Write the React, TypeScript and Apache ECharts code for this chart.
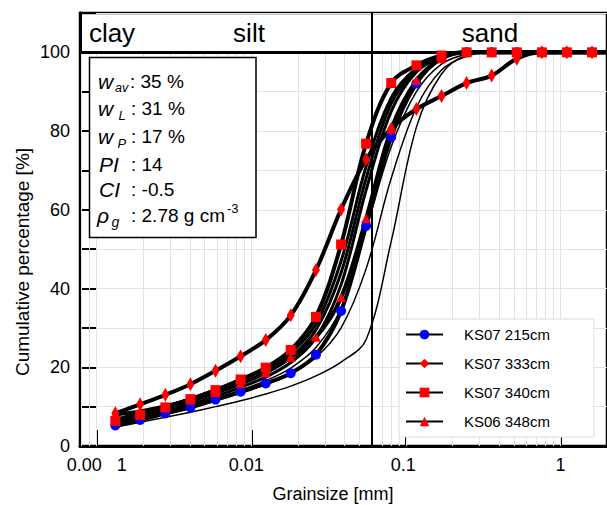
import React, { useEffect, useRef } from 'react';
import * as echarts from 'echarts';

// ---- data ----
const grainSizes = [0.00132, 0.00191, 0.00278, 0.00404, 0.00587, 0.00853, 0.0124, 0.018, 0.0262, 0.0381, 0.0553, 0.0804, 0.117, 0.17, 0.247, 0.359, 0.522, 0.759, 1.1, 1.6, 2.0];

const sampleNames = ['KS07 215cm', 'KS07 333cm', 'KS07 340cm', 'KS06 348cm'];
const ks07_215 = [5.2, 6.6, 8.3, 9.8, 11.8, 13.8, 15.9, 18.5, 23.2, 34.3, 55.9, 78.5, 92.1, 98.5, 100, 100, 100, 100, 100, 100, 100];
const ks07_333 = [8.3, 10.6, 13.0, 15.7, 19.1, 22.8, 26.9, 33.2, 44.7, 60.1, 72.8, 80.6, 85.6, 88.9, 92.2, 94.1, 98.4, 100, 100, 100, 100];
const ks07_340 = [6.4, 7.9, 9.8, 11.9, 14.2, 16.9, 19.9, 24.4, 32.8, 51.2, 76.8, 92.2, 96.7, 99.2, 100, 100, 100, 100, 100, 100, 100];
const ks06_348 = [8.0, 8.8, 10.1, 11.7, 13.6, 15.9, 18.6, 22.5, 27.6, 37.7, 57.8, 80.5, 92.9, 98.4, 100, 100, 100, 100, 100, 100, 100];

// other samples (unmarked curves)
const other1 = [6.8, 8.3, 10.0, 12.0, 14.3, 16.8, 19.6, 23.6, 31.0, 47.0, 71.0, 88.5, 96.0, 99.0, 100, 100, 100, 100, 100, 100, 100];
const other2 = [6.4, 7.8, 9.4, 11.3, 13.4, 15.8, 18.6, 22.5, 29.5, 44.0, 68.0, 87.0, 95.5, 99.0, 100, 100, 100, 100, 100, 100, 100];
const other3 = [6.0, 7.3, 8.8, 10.6, 12.6, 14.9, 17.5, 21.2, 27.5, 41.0, 65.0, 85.0, 95.0, 98.8, 100, 100, 100, 100, 100, 100, 100];
const other4 = [5.6, 6.9, 8.4, 10.1, 12.0, 14.2, 16.6, 19.8, 25.0, 35.0, 55.0, 76.0, 90.0, 97.0, 99.5, 100, 100, 100, 100, 100, 100];
const other5 = [5.4, 6.6, 8.0, 9.6, 11.4, 13.4, 15.6, 18.4, 22.5, 30.0, 45.0, 68.0, 86.0, 95.5, 99.0, 100, 100, 100, 100, 100, 100];
const other6 = [4.8, 6.0, 7.3, 8.6, 10.0, 11.5, 13.2, 15.2, 17.8, 21.3, 27.0, 52.0, 81.0, 94.5, 99.3, 100, 100, 100, 100, 100, 100];
const otherWidths = [3, 3, 3, 1.5, 1.5, 1.5];

// axes
const xMin = 0.00078;
const xMax = 2;
const xTickValues = [0.001, 0.01, 0.1, 1];
const xTickLabels = ['0.00\u00A0\u00A0\u00A01', '0.01\u00A0\u00A0', '0.1\u00A0', '1'];
const yLabelValues = [0, 20, 40, 60, 80, 100];
const gridMultipliers = [1, 2, 3, 4, 5, 6, 7, 8, 9];
const gridDecades = [0.0001, 0.001, 0.01, 0.1, 1];

// fraction boundaries
const classBounds = [0.002, 0.06];
const classNames = ['clay', 'silt', 'sand'];

// parameter box
const paramSymbols = ['w', 'w', 'w', 'PI', 'CI', 'ρ'];
const paramSubs = ['av', 'L', 'P', '', '', 'g'];
const paramValues = ['35 %', '31 %', '17 %', '14', '-0.5', '2.78 g cm'];
const paramSup = ['', '', '', '', '', '-3'];

const FONT = 'Liberation Sans, Arial, Helvetica, sans-serif';

export default function App() {
  const ref = useRef<HTMLDivElement>(null);

  useEffect(() => {
    if (!ref.current) return;
    const chart = echarts.init(ref.current, undefined, { renderer: 'svg' });

    const toData = (vals: number[]) =>
      vals.map((v, i) =>
        i === vals.length - 1 ? { value: [grainSizes[i], v], symbol: 'none' } : [grainSizes[i], v]
      );

    const gridValues: number[] = [];
    gridDecades.forEach((d) =>
      gridMultipliers.forEach((m) => {
        const v = +(d * m).toPrecision(3);
        if (v > xMin && v < xMax) gridValues.push(v);
      })
    );

    const others = [other1, other2, other3, other4, other5, other6];

    const markedDefs = [
      { vals: ks07_215, symbol: 'circle', size: 10, color: '#0000ff' },
      { vals: ks07_333, symbol: 'diamond', size: [8, 14], color: '#ff0000' },
      { vals: ks07_340, symbol: 'rect', size: 10, color: '#ff0000' },
      { vals: ks06_348, symbol: 'triangle', size: [10, 9], color: '#ff0000' },
    ];

    const series: any[] = [
      {
        type: 'line',
        data: [],
        silent: true,
        markLine: {
          silent: true,
          z: 1,
          symbol: ['none', 'none'],
          label: { show: false },
          emphasis: { disabled: true },
          lineStyle: { color: '#e2e2e2', width: 1, type: 'solid' },
          data: gridValues.map((v) => [{ coord: [v, 0] }, { coord: [v, 100] }]),
        },
      },
      {
        type: 'line',
        data: [],
        silent: true,
        markLine: {
          silent: true,
          z: 3,
          symbol: ['none', 'none'],
          label: { show: false },
          emphasis: { disabled: true },
          lineStyle: { color: '#000', width: 2, type: 'solid' },
          data: [
            ...classBounds.map((b) => ({ xAxis: b })),
            { yAxis: 100, lineStyle: { color: '#000', width: 3, type: 'solid' } },
          ],
        },
      },
      ...others.map((vals, k) => ({
        type: 'line',
        data: toData(vals),
        smooth: 0.35,
        showSymbol: false,
        silent: true,
        z: 4,
        lineStyle: { color: '#000', width: otherWidths[k] },
        itemStyle: { color: '#000' },
      })),
      ...markedDefs.map((d, k) => ({
        name: sampleNames[k],
        type: 'line',
        data: toData(d.vals),
        smooth: 0.35,
        symbol: d.symbol,
        symbolSize: d.size,
        silent: true,
        z: 5,
        lineStyle: { color: '#000', width: 4 },
        itemStyle: { color: d.color },
      })),
    ];

    const rowY = [81, 108.5, 136.5, 164.5, 189.5, 215];
    const symX = [98, 98, 98, 99, 99, 97];
    const subX = [115, 118.5, 117.5, 0, 0, 111.5];
    const subSize = [12.5, 13, 13, 13, 13, 14];
    const colonX = [130, 131, 131, 131, 131, 131];

    const graphics: any[] = [
      {
        type: 'rect',
        z: 100,
        shape: { x: 89.5, y: 57.5, width: 166.5, height: 180 },
        style: { fill: '#fff', stroke: '#000', lineWidth: 1.5 },
      },
    ];
    paramSymbols.forEach((s, i) => {
      graphics.push({
        type: 'text',
        z: 101,
        x: symX[i],
        y: rowY[i],
        style: { text: s, fontSize: 21, fontStyle: 'italic', fontFamily: FONT, fill: '#000', align: 'left', verticalAlign: 'middle' },
      });
      if (paramSubs[i]) {
        graphics.push({
          type: 'text',
          z: 101,
          x: subX[i],
          y: rowY[i] + 7,
          style: { text: paramSubs[i], fontSize: subSize[i], fontStyle: 'italic', fontFamily: FONT, fill: '#000', align: 'left', verticalAlign: 'middle' },
        });
      }
      graphics.push({
        type: 'text',
        z: 101,
        x: colonX[i],
        y: rowY[i],
        style: { text: ': ' + paramValues[i], fontSize: 19, fontFamily: FONT, fill: '#000', align: 'left', verticalAlign: 'middle' },
      });
      if (paramSup[i]) {
        graphics.push({
          type: 'text',
          z: 101,
          x: 227,
          y: rowY[i] - 7,
          style: { text: paramSup[i], fontSize: 13, fontFamily: FONT, fill: '#000', align: 'left', verticalAlign: 'middle' },
        });
      }
    });

    const headerX = [112, 249, 490];
    classNames.forEach((c, i) => {
      graphics.push({
        type: 'text',
        z: 101,
        x: headerX[i],
        y: 33,
        style: { text: c, fontSize: 26, fontFamily: FONT, fill: '#000', align: 'center', verticalAlign: 'middle' },
      });
    });

    graphics.push({
      type: 'text',
      z: 101,
      x: 333,
      y: 494,
      style: { text: 'Grainsize [mm]', fontSize: 18, fontFamily: FONT, fill: '#000', align: 'center', verticalAlign: 'middle' },
    });
    graphics.push({
      type: 'text',
      z: 101,
      x: 22,
      y: 262,
      rotation: Math.PI / 2,
      style: { text: 'Cumulative percentage [%]', fontSize: 19, fontFamily: FONT, fill: '#000', align: 'center', verticalAlign: 'middle' },
    });

    const option: any = {
      animation: false,
      backgroundColor: '#fff',
      grid: {
        left: 80,
        top: 13,
        width: 528,
        bottom: 59,
        show: true,
        borderColor: '#000',
        borderWidth: 2.5,
        backgroundColor: 'transparent',
      },
      xAxis: {
        type: 'log',
        logBase: 10,
        min: xMin,
        max: xMax,
        axisLine: { show: true, onZero: false, lineStyle: { color: '#000', width: 3 } },
        axisTick: { show: true, inside: true, length: 16, lineStyle: { color: '#000', width: 2 } },
        minorTick: { show: false },
        splitLine: { show: false },
        axisLabel: {
          showMinLabel: false,
          showMaxLabel: false,
          fontSize: 18,
          fontFamily: FONT,
          color: '#000',
          margin: 10,
          formatter: (v: number) => {
            const i = xTickValues.findIndex((t) => Math.abs(Math.log10(v / t)) < 1e-6);
            return i >= 0 ? xTickLabels[i] : '';
          },
        },
      },
      yAxis: {
        type: 'value',
        min: 0,
        max: 110,
        interval: 10,
        axisLine: { show: true, lineStyle: { color: '#000', width: 3 } },
        axisTick: { show: true, inside: true, length: 16, lineStyle: { color: '#000', width: 2 } },
        splitLine: { show: true, lineStyle: { color: '#e2e2e2', width: 1 } },
        axisLabel: {
          fontSize: 18,
          fontFamily: FONT,
          color: '#000',
          margin: 10,
          formatter: (v: number) => (yLabelValues.includes(v) ? String(v) : ''),
        },
      },
      legend: {
        data: sampleNames,
        orient: 'vertical',
        left: 399,
        top: 319,
        backgroundColor: '#fff',
        borderColor: '#dcdcdc',
        borderWidth: 1,
        padding: [8, 44, 8, 6],
        itemWidth: 37,
        itemHeight: 12,
        itemGap: 14,
        selectedMode: false,
        z: 50,
        textStyle: { fontSize: 15, fontFamily: FONT, color: '#000', padding: [0, 0, 0, 16] },
      },
      graphic: graphics,
      series,
    };

    chart.setOption(option);
    return () => chart.dispose();
  }, []);

  return (
    <div
      ref={ref}
      style={{ position: 'fixed', left: 0, top: 0, width: 607, height: 505, background: '#fff' }}
    />
  );
}
